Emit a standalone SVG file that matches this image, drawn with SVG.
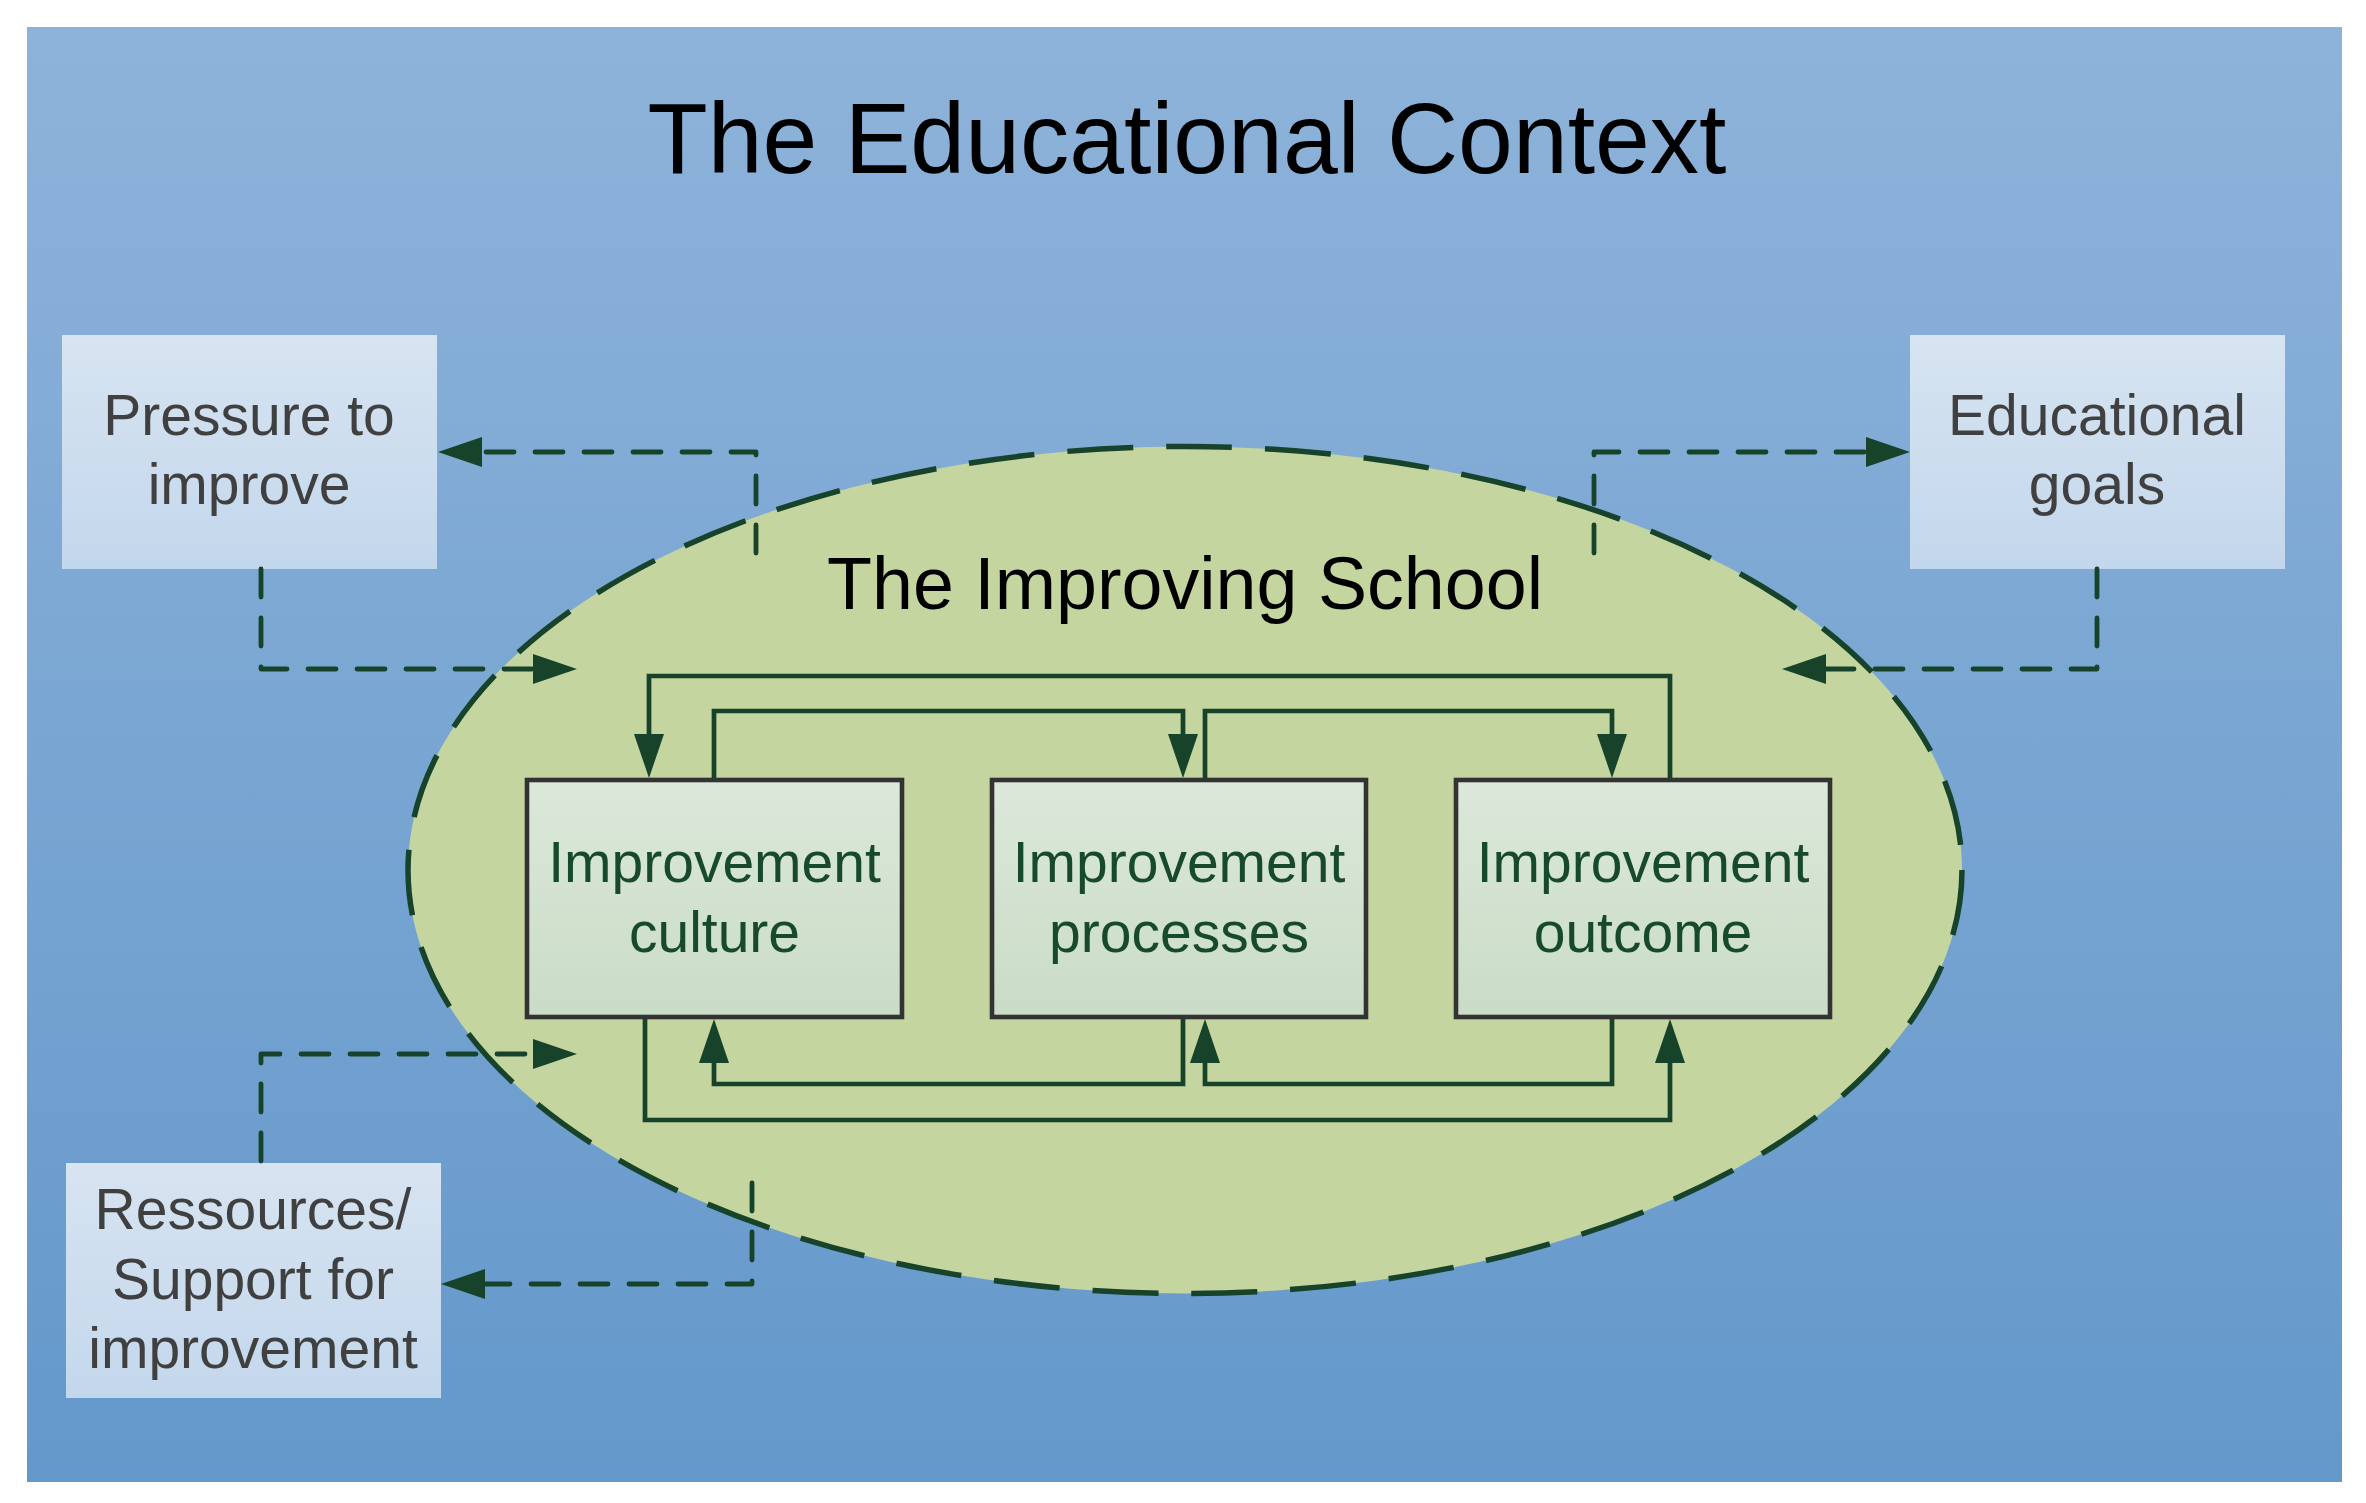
<svg xmlns="http://www.w3.org/2000/svg" width="2366" height="1503" viewBox="0 0 2366 1503">
<style>
.bg{fill:url(#gBg)}
.outer{fill:url(#gOuter)}
.inner{fill:url(#gInner);stroke:#333333;stroke-width:4.6}
.otxt{font-family:"Liberation Sans",Arial,sans-serif;font-size:57px;fill:#404040;text-anchor:middle}
.itxt{font-family:"Liberation Sans",Arial,sans-serif;font-size:57px;fill:#174A2B;text-anchor:middle}
.dash{fill:none;stroke:#16432A;stroke-width:4.8;stroke-dasharray:28 21;stroke-linecap:round;stroke-linejoin:round;marker-end:url(#ah)}
.solid{fill:none;stroke:#16432A;stroke-width:4.7;marker-end:url(#ah2)}
</style>
<defs>
<linearGradient id="gBg" x1="0" y1="0" x2="0" y2="1">
<stop offset="0" stop-color="#8EB3DA"/>
<stop offset="1" stop-color="#6498CB"/>
</linearGradient>
<linearGradient id="gOuter" x1="0" y1="0" x2="0" y2="1">
<stop offset="0" stop-color="#D7E4F1"/>
<stop offset="1" stop-color="#C3D7EC"/>
</linearGradient>
<linearGradient id="gInner" x1="0" y1="0" x2="0" y2="1">
<stop offset="0" stop-color="#DCE8DA"/>
<stop offset="1" stop-color="#C9DCC6"/>
</linearGradient>
<marker id="ah" markerUnits="userSpaceOnUse" markerWidth="44" markerHeight="30" refX="0" refY="15" orient="auto" overflow="visible">
<path d="M0,0 L44,15 L0,30 z" fill="#16432A"/>
</marker>
<marker id="ah2" markerUnits="userSpaceOnUse" markerWidth="44" markerHeight="30" refX="0" refY="15" orient="auto" overflow="visible">
<path d="M0,0 L44,15 L0,30 z" fill="#16432A"/>
</marker>
</defs>
<rect x="0" y="0" width="2366" height="1503" fill="#FFFFFF"/>
<rect class="bg" x="27" y="27" width="2315" height="1455"/>
<text x="1187" y="173" font-family="'Liberation Sans',Arial,sans-serif" font-size="101" fill="#000000" text-anchor="middle" textLength="1079" lengthAdjust="spacingAndGlyphs">The Educational Context</text>

<g id="school">
<ellipse cx="1185" cy="870" rx="777" ry="423.5" fill="#C4D5A0" stroke="#16432A" stroke-width="5.5" stroke-dasharray="66 33"/>
<text x="1185" y="609" font-family="'Liberation Sans',Arial,sans-serif" font-size="75" fill="#000000" text-anchor="middle" textLength="716" lengthAdjust="spacingAndGlyphs">The Improving School</text>
</g>

<g id="pressure">
<rect class="outer" x="62" y="335" width="375" height="234"/>
<text class="otxt" x="249" y="435">Pressure to</text>
<text class="otxt" x="249" y="504">improve</text>
</g>

<g id="goals">
<rect class="outer" x="1910" y="335" width="375" height="234"/>
<text class="otxt" x="2097" y="435">Educational</text>
<text class="otxt" x="2097" y="504">goals</text>
</g>

<g id="resources">
<rect class="outer" x="66" y="1163" width="375" height="235"/>
<text class="otxt" x="253" y="1229">Ressources/</text>
<text class="otxt" x="253" y="1299">Support for</text>
<text class="otxt" x="253" y="1368">improvement</text>
</g>

<g id="culture">
<rect class="inner" x="527" y="780" width="375" height="237"/>
<text class="itxt" x="714.5" y="882">Improvement</text>
<text class="itxt" x="714.5" y="952">culture</text>
</g>

<g id="processes">
<rect class="inner" x="992" y="780" width="374" height="237"/>
<text class="itxt" x="1179" y="882">Improvement</text>
<text class="itxt" x="1179" y="952">processes</text>
</g>

<g id="outcome">
<rect class="inner" x="1456" y="780" width="374" height="237"/>
<text class="itxt" x="1643" y="882">Improvement</text>
<text class="itxt" x="1643" y="952">outcome</text>
</g>

<g id="connectors">
<path class="dash" d="M756,553 V452 H482"/>
<path class="dash" d="M261,569 V669 H533"/>
<path class="dash" d="M1594,553 V452 H1866"/>
<path class="dash" d="M2097,569 V669 H1826"/>
<path class="dash" d="M261,1161 V1054 H533"/>
<path class="dash" d="M752,1183 V1284 H485"/>
<path class="solid" d="M1670,778 V676 H649 V734"/>
<path class="solid" d="M714,778 V711 H1183 V734"/>
<path class="solid" d="M1205,778 V711 H1612 V734"/>
<path class="solid" d="M645,1019 V1120 H1670 V1063"/>
<path class="solid" d="M1183,1019 V1084 H714 V1063"/>
<path class="solid" d="M1612,1019 V1084 H1205 V1063"/>
</g>
</svg>
